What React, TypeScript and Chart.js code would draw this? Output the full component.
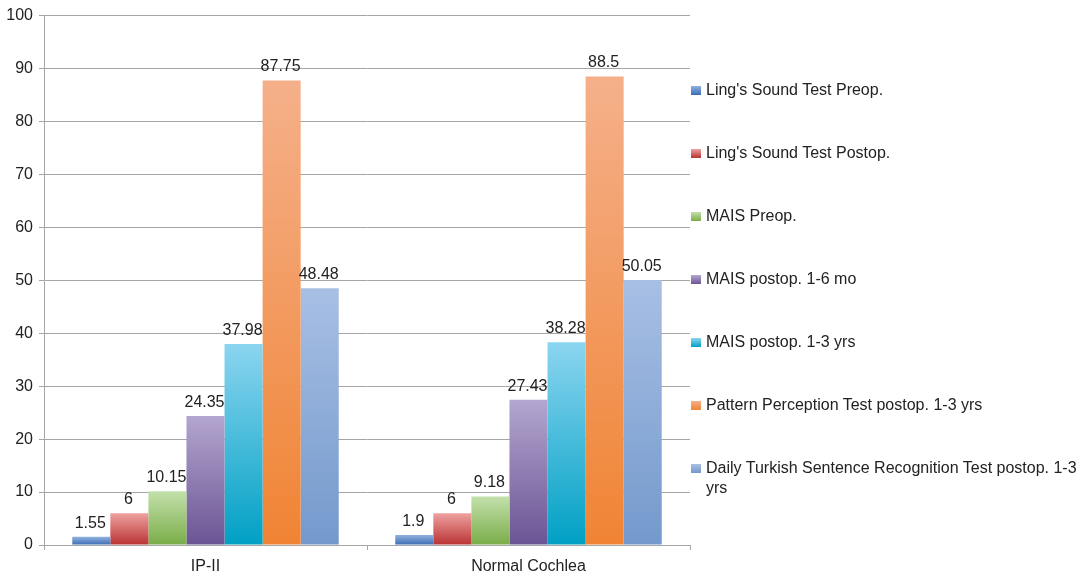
import React, { useEffect, useRef } from "react";
import { Chart, registerables } from "chart.js";

Chart.register(...registerables);

const categories = ["IP-II", "Normal Cochlea"];
const seriesNames = [
  "Ling's Sound Test Preop.",
  "Ling's Sound Test Postop.",
  "MAIS Preop.",
  "MAIS postop. 1-6 mo",
  "MAIS postop. 1-3 yrs",
  "Pattern Perception Test postop. 1-3 yrs",
  "Daily Turkish Sentence Recognition Test postop. 1-3 yrs",
];
const lingPreop = [1.55, 1.9];
const lingPostop = [6, 6];
const maisPreop = [10.15, 9.18];
const maisPostop16mo = [24.35, 27.43];
const maisPostop13yrs = [37.98, 38.28];
const patternPerception = [87.75, 88.5];
const dailyTurkish = [48.48, 50.05];
const seriesValues = [lingPreop, lingPostop, maisPreop, maisPostop16mo, maisPostop13yrs, patternPerception, dailyTurkish];
const yTicks = [0, 10, 20, 30, 40, 50, 60, 70, 80, 90, 100];

const gradTop = ["#92b2df", "#eea1a0", "#c3e0ab", "#b3a6cf", "#8bd5f0", "#f5b08a", "#a8bfe4"];
const gradBottom = ["#3a6bb5", "#b93333", "#7aad48", "#6b5494", "#00a0c4", "#f08434", "#7399cc"];

const FONT = "'Liberation Sans', Arial, Helvetica, sans-serif";

const dataLabelPlugin = {
  id: "dataLabels",
  afterDatasetsDraw(chart: any) {
    const ctx = chart.ctx;
    ctx.save();
    ctx.font = `16px ${FONT}`;
    ctx.fillStyle = "#222";
    ctx.textAlign = "center";
    ctx.textBaseline = "alphabetic";
    chart.data.datasets.forEach((ds: any, i: number) => {
      const meta = chart.getDatasetMeta(i);
      meta.data.forEach((el: any, j: number) => {
        ctx.fillText(String(ds.data[j]), el.x - 1, el.y - 9);
      });
    });
    ctx.restore();
  },
};

export default function App() {
  const canvasRef = useRef<HTMLCanvasElement>(null);

  useEffect(() => {
    if (!canvasRef.current) return;
    const chart = new Chart(canvasRef.current, {
      type: "bar",
      data: {
        labels: categories,
        datasets: seriesNames.map((name, i) => ({
          label: name,
          data: seriesValues[i],
          backgroundColor: (c: any) => {
            const ch = c.chart;
            if (c.type !== "data" || !ch.chartArea || !ch.scales.y) return gradBottom[i];
            const v = c.raw as number;
            const top = ch.scales.y.getPixelForValue(v);
            const bottom = ch.scales.y.getPixelForValue(0);
            if (!isFinite(top) || !isFinite(bottom) || bottom - top < 0.5) return gradBottom[i];
            const g = ch.ctx.createLinearGradient(0, top, 0, bottom);
            g.addColorStop(0, gradTop[i]);
            g.addColorStop(1, gradBottom[i]);
            return g;
          },
          borderWidth: 0,
          barPercentage: 1,
          categoryPercentage: 0.825,
        })),
      },
      options: {
        animation: false,
        responsive: false,
        maintainAspectRatio: false,
        layout: { padding: { top: 13, right: 400, left: 0, bottom: 0 } },
        plugins: {
          legend: { display: false },
          tooltip: { enabled: false },
        },
        scales: {
          x: {
            grid: { drawOnChartArea: false, drawTicks: true, tickLength: 5, color: "#a6a6a6", offset: true },
            border: { color: "#a6a6a6", width: 1 },
            ticks: { color: "#222", font: { family: FONT, size: 16 }, padding: 7 },
            afterFit: (s: any) => { s.height = 33; },
          },
          y: {
            min: 0,
            max: 100,
            afterBuildTicks: (s: any) => { s.ticks = yTicks.map((v) => ({ value: v })); },
            grid: { color: "#a6a6a6", tickLength: 5, lineWidth: 1 },
            border: { color: "#a6a6a6", width: 1 },
            ticks: { color: "#222", font: { family: FONT, size: 16 }, padding: 6 },
            afterFit: (s: any) => { s.width = 44; },
          },
        },
      },
      plugins: [dataLabelPlugin],
    });
    return () => chart.destroy();
  }, []);

  return (
    <div style={{ position: "absolute", left: 0, top: 0, width: 1090, height: 578, background: "#fff" }}>
      <canvas ref={canvasRef} width={1090} height={578} style={{ position: "absolute", left: 0, top: 0 }} />
      {seriesNames.map((name, i) => (
        <div
          key={name}
          style={{
            position: "absolute",
            left: 691,
            top: 80 + i * 63,
            width: 392,
            display: "flex",
            alignItems: "flex-start",
            fontFamily: FONT,
            fontSize: 16,
            lineHeight: "20px",
            color: "#222",
          }}
        >
          <span
            style={{
              display: "inline-block",
              width: 10,
              height: 9,
              marginTop: 6,
              marginRight: 5,
              flex: "none",
              background: `linear-gradient(${gradTop[i]}, ${gradBottom[i]})`,
            }}
          />
          <span style={{ width: 377 }}>{name}</span>
        </div>
      ))}
    </div>
  );
}
